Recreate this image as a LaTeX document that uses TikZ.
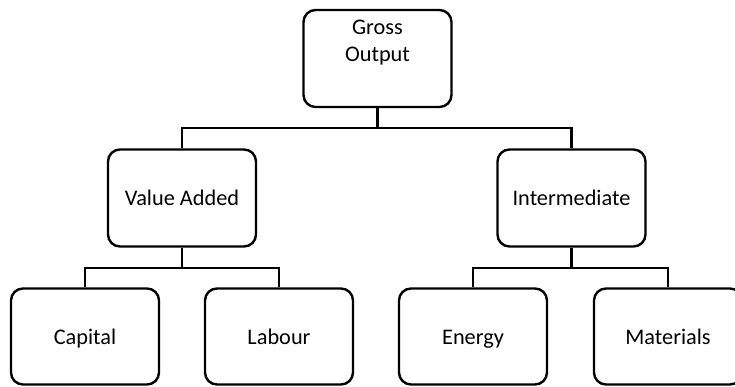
\documentclass[tikz,border=0pt]{standalone}
\usepackage{fontspec}
\setmainfont{Carlito}
\begin{document}
\begin{tikzpicture}[x=1pt,y=-1pt,
  box/.style={draw, line width=2.4pt, rounded corners=12pt, minimum width=148pt, minimum height=97pt, inner sep=0pt},
  lbl/.style={font=\fontsize{22.3}{27}\selectfont, align=center, inner sep=0pt, text height=15pt, text depth=0pt},
  txt/.style={font=\fontsize{22.3}{27}\selectfont, inner sep=0pt, anchor=base},
  conn/.style={line width=2.4pt}]
\useasboundingbox (0,0) rectangle (735,387);
\node[box] (go) at (377.5,58.5) {};
\node[txt] (gotext1) at (377.5,34.5) {Gross};
\node[txt] (gotext2) at (377.5,61.5) {Output};
\node[box, lbl] (va) at (182,198) {Value Added};
\node[box, lbl] (in) at (571.5,198) {Intermediate};
\node[box, lbl, minimum height=96pt] (cap) at (85,336.5) {Capital};
\node[box, lbl, minimum height=96pt] (lab) at (279,336.5) {Labour};
\node[box, lbl, minimum height=96pt] (ene) at (473,336.5) {Energy};
\node[box, lbl, minimum height=96pt] (mat) at (668,336.5) {Materials};
\draw[conn] (go.south) -- ++(0,20) -| (va.north);
\draw[conn] (go.south) -- ++(0,20) -| (in.north);
\draw[conn] (va.south) -- ++(0,20) -| (cap.north);
\draw[conn] (va.south) -- ++(0,20) -| (lab.north);
\draw[conn] (in.south) -- ++(0,20) -| (ene.north);
\draw[conn] (in.south) -- ++(0,20) -| (mat.north);
\end{tikzpicture}
\end{document}
